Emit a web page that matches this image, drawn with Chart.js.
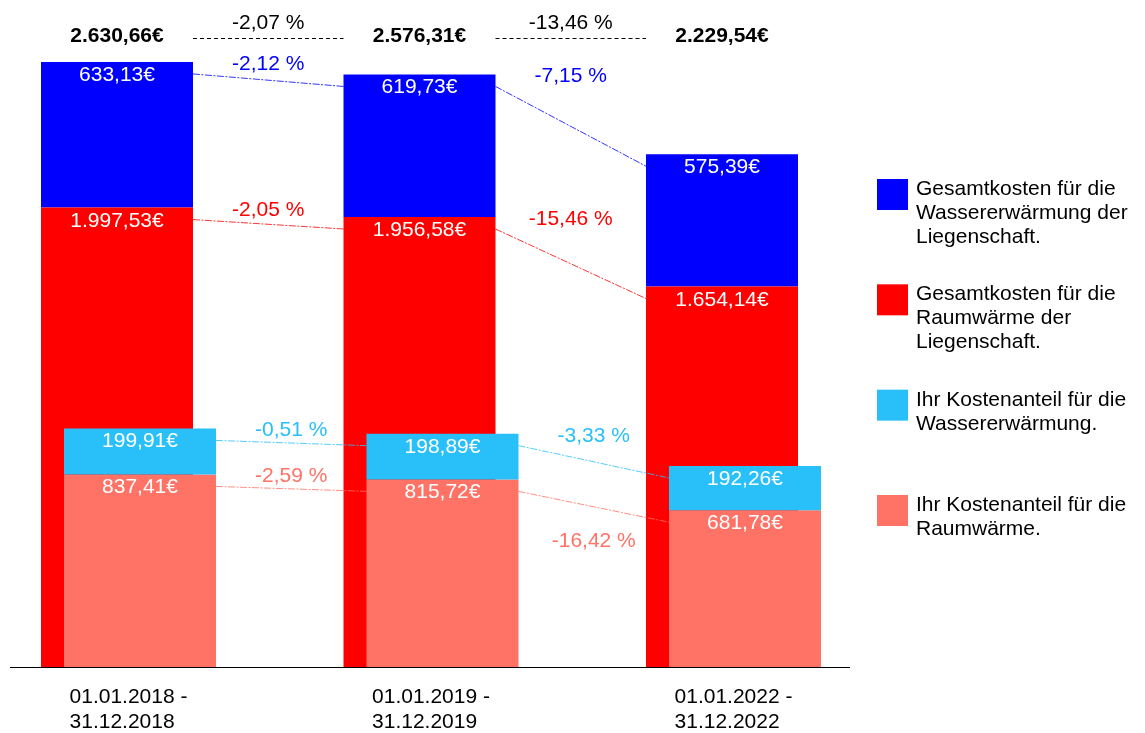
<!DOCTYPE html>
<html><head><meta charset="utf-8">
<script src="https://cdn.jsdelivr.net/npm/chart.js@4.4.1/dist/chart.umd.min.js"></script>
<style>
html,body{margin:0;padding:0;background:#fff;overflow:hidden;width:1145px;height:733px}
#wrap{position:relative;width:1145px;height:733px;overflow:hidden}
#c{position:absolute;left:-40px;top:0}
</style>
</head><body><div id="wrap"><canvas id="c" width="1185" height="733"></canvas></div>
<script>
// ---- data ----
const periods = [['01.01.2018 -','31.12.2018'],['01.01.2019 -','31.12.2019'],['01.01.2022 -','31.12.2022']];
const totalWater = [633.13, 619.73, 575.39];
const totalHeat = [1997.53, 1956.58, 1654.14];
const shareWater = [199.91, 198.89, 192.26];
const shareHeat = [837.41, 815.72, 681.78];
const totalSum = [2630.66, 2576.31, 2229.54];
const totalSumChange = ['-2,07 %', '-13,46 %'];
const totalWaterChange = ['-2,12 %', '-7,15 %'];
const totalHeatChange = ['-2,05 %', '-15,46 %'];
const shareWaterChange = ['-0,51 %', '-3,33 %'];
const shareHeatChange = ['-2,59 %', '-16,42 %'];
const legendTotalWater = ['Gesamtkosten für die', 'Wassererwärmung der', 'Liegenschaft.'];
const legendTotalHeat = ['Gesamtkosten für die', 'Raumwärme der', 'Liegenschaft.'];
const legendShareWater = ['Ihr Kostenanteil für die', 'Wassererwärmung.'];
const legendShareHeat = ['Ihr Kostenanteil für die', 'Raumwärme.'];
const yMax = 2900;

// ---- style ----
const SHIFT = 40;
const FONT = "'Liberation Sans', Arial, Helvetica, sans-serif";
const C_BLUE = '#0000FF', C_RED = '#FF0000', C_LBLUE = '#29C0FA', C_SALMON = '#FF7266';

function fmtEuro(v) {
  const parts = v.toFixed(2).split('.');
  return parts[0].replace(/\B(?=(\d{3})+(?!\d))/g, '.') + ',' + parts[1] + '€';
}

Chart.defaults.font.family = FONT;
Chart.defaults.font.size = 21;
Chart.defaults.color = '#000';

const legendLines = [legendTotalHeat, legendTotalWater, legendShareHeat, legendShareWater];
const changes = [totalHeatChange, totalWaterChange, shareHeatChange, shareWaterChange];
const connectors = [
  {ds: 1, above: null},
  {ds: 0, above: 1},
  {ds: 3, above: null},
  {ds: 2, above: 3}
];
const OWN = [2, 3];

const overlay = {
  id: 'overlay',
  beforeDatasetDraw(chart, args) {
    if (OWN.includes(args.index)) return false;
  },
  afterDatasetsDraw(chart) {
    const ctx = chart.ctx;
    OWN.forEach(i => chart.getDatasetMeta(i).controller.draw());
    const el = (d, i) => chart.getDatasetMeta(d).data[i];
    const n = periods.length;
    const top = chart.chartArea.top;
    const ds = chart.data.datasets;
    ctx.save();

    // connector lines
    const conn = {};
    for (const c of connectors) {
      conn[c.ds] = [];
      for (let i = 0; i < n - 1; i++) {
        const a = el(c.ds, i), b = el(c.ds, i + 1);
        const seg = {x1: a.x + a.width / 2, y1: a.y + 12, x2: b.x - b.width / 2, y2: b.y + 12};
        conn[c.ds].push(seg);
        ctx.strokeStyle = ds[c.ds].backgroundColor;
        ctx.lineWidth = 0.8;
        ctx.setLineDash([7, 1.5, 2, 1.5]);
        ctx.beginPath(); ctx.moveTo(seg.x1, seg.y1); ctx.lineTo(seg.x2, seg.y2); ctx.stroke();
      }
    }
    ctx.setLineDash([]);

    // percent labels
    ctx.font = '21px ' + FONT;
    ctx.textAlign = 'center';
    ctx.textBaseline = 'alphabetic';
    const yAt = (s, x) => s.y1 + (s.y2 - s.y1) * (x - s.x1) / (s.x2 - s.x1);
    for (const c of connectors) {
      for (let i = 0; i < n - 1; i++) {
        const a = el(c.ds, i);
        const seg = conn[c.ds][i];
        const txt = changes[c.ds][i];
        const w = ctx.measureText(txt).width;
        const cx = (seg.x1 + seg.x2) / 2;
        let base = a.y + 8;
        if (c.above !== null) {
          const s2 = conn[c.above][i];
          const yAbove = Math.max(yAt(s2, cx - w / 2), yAt(s2, cx + w / 2));
          if (yAbove > base - 25) {
            base = Math.max(yAt(seg, cx - w / 2), yAt(seg, cx + w / 2)) + 32;
          }
        }
        ctx.fillStyle = ds[c.ds].backgroundColor;
        ctx.fillText(txt, cx, base);
      }
    }

    // value labels
    ctx.fillStyle = '#FFFFFF';
    for (let d = 0; d < ds.length; d++) {
      for (let i = 0; i < n; i++) {
        const e = el(d, i);
        ctx.fillText(fmtEuro(ds[d].data[i]), e.x, e.y + 19);
      }
    }

    // totals
    ctx.fillStyle = '#000';
    ctx.font = 'bold 21px ' + FONT;
    for (let i = 0; i < n; i++) {
      const e = el(1, i);
      ctx.fillText(fmtEuro(totalSum[i]), e.x, top + 42);
    }
    ctx.font = '21px ' + FONT;
    ctx.strokeStyle = '#000';
    ctx.lineWidth = 1;
    for (let i = 0; i < n - 1; i++) {
      const a = el(1, i), b = el(1, i + 1);
      const x1 = a.x + a.width / 2, x2 = b.x - b.width / 2;
      ctx.fillText(totalSumChange[i], (x1 + x2) / 2, top + 29);
      ctx.setLineDash([4, 3]);
      ctx.beginPath(); ctx.moveTo(x1, top + 38.5); ctx.lineTo(x2, top + 38.5); ctx.stroke();
    }
    ctx.setLineDash([]);

    // baseline
    const y0 = chart.scales.y.getPixelForValue(0);
    ctx.beginPath(); ctx.moveTo(SHIFT + 10, y0 + 0.5); ctx.lineTo(SHIFT + 850, y0 + 0.5); ctx.stroke();

    // category labels: left-aligned block centred under each category
    const xs = chart.scales.x;
    ctx.textAlign = 'left';
    ctx.fillStyle = '#000';
    periods.forEach((lines, i) => {
      const px = xs.getPixelForTick(i);
      const wMax = Math.max(...lines.map(l => ctx.measureText(l).width));
      lines.forEach((l, j) => ctx.fillText(l, px - wMax / 2, y0 + 36 + j * 25));
    });

    // legend
    const LEG = {x: 877 + SHIFT, top: 179, step: 105.33, box: 31, textX: 916 + SHIFT, lineH: 24, firstBase: 16};
    const order = [1, 0, 3, 2];
    order.forEach((d, k) => {
      const y = LEG.top + k * LEG.step;
      ctx.fillStyle = ds[d].backgroundColor;
      ctx.fillRect(LEG.x, y, LEG.box, LEG.box);
      ctx.fillStyle = '#000';
      legendLines[d].forEach((line, j) => ctx.fillText(line, LEG.textX, y + LEG.firstBase + j * LEG.lineH));
    });
    ctx.restore();
  }
};

const barOpts = {categoryPercentage: 46 / 302.5, barPercentage: 152 / 23, borderWidth: 0};

new Chart(document.getElementById('c'), {
  type: 'bar',
  data: {
    labels: periods,
    datasets: [
      Object.assign({label: legendTotalHeat.join(' '), data: totalHeat, backgroundColor: C_RED, stack: 'gesamt'}, barOpts),
      Object.assign({label: legendTotalWater.join(' '), data: totalWater, backgroundColor: C_BLUE, stack: 'gesamt'}, barOpts),
      Object.assign({label: legendShareHeat.join(' '), data: shareHeat, backgroundColor: C_SALMON, stack: 'anteil'}, barOpts),
      Object.assign({label: legendShareWater.join(' '), data: shareWater, backgroundColor: C_LBLUE, stack: 'anteil'}, barOpts)
    ]
  },
  options: {
    responsive: false,
    animation: false,
    events: [],
    layout: {padding: {left: SHIFT - 22.75, right: 1185 - (884.75 + SHIFT), top: 0, bottom: 0}},
    plugins: {legend: {display: false}, tooltip: {enabled: false}},
    scales: {
      x: {
        stacked: true, offset: true,
        grid: {display: false, drawTicks: false},
        border: {display: false},
        ticks: {display: false},
        afterFit(s) { s.height = 66; }
      },
      y: {stacked: true, display: false, min: 0, max: yMax}
    }
  },
  plugins: [overlay]
});
</script>
</body></html>
